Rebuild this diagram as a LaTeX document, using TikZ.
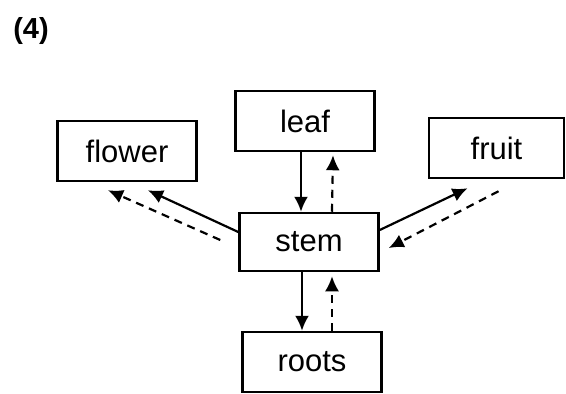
\documentclass[tikz,border=0pt]{standalone}
\usepackage{fontspec}
\setmainfont{Liberation Sans}
\usetikzlibrary{arrows.meta}

\begin{document}
\begin{tikzpicture}[x=1pt,y=-1pt,>={Latex[length=15pt,width=14pt]},
  part/.style={draw,line width=2.5pt,minimum width=139pt,minimum height=60pt,
    inner sep=0pt,font=\fontsize{31}{34}\selectfont},
  flow/.style={->,line width=2.2pt},
  back/.style={->,line width=2.2pt,dash pattern=on 8pt off 6pt}]
\useasboundingbox (0,0) rectangle (566,394);

\node[font=\fontsize{29}{32}\selectfont\bfseries] (num) at (31,31) {(4)};

\node[part] (leaf) at (305,121) {leaf};
\node[part] (flower) at (127,151) {flower};
\node[part,minimum width=135pt] (fruit) at (496.5,148) {fruit};
\node[part,minimum height=58pt] (stem) at (309,242) {stem};
\node[part] (roots) at (312,362) {roots};

\draw[flow] ([xshift=-4pt]leaf.south) -- ([xshift=-8pt]stem.north);
\draw[back] ([xshift=23pt]stem.north) -- ([xshift=28pt,yshift=-3pt]leaf.south);

\draw[flow] ([xshift=-7pt]stem.south) -- ([xshift=-10pt]roots.north);
\draw[back] ([xshift=20pt]roots.north) -- ([xshift=23pt,yshift=-4pt]stem.south);

\draw[flow] ([yshift=10pt]stem.west) -- ([xshift=21pt,yshift=-8pt]flower.south);
\draw[back] ([xshift=-18pt,yshift=2pt]stem.west) -- ([xshift=-19pt,yshift=-8pt]flower.south);

\draw[flow] ([yshift=12pt]stem.east) -- ([xshift=-29pt,yshift=-9pt]fruit.south);
\draw[back] ([xshift=2pt,yshift=-12pt]fruit.south) -- ([xshift=9pt,yshift=-6pt]stem.east);
\end{tikzpicture}
\end{document}
